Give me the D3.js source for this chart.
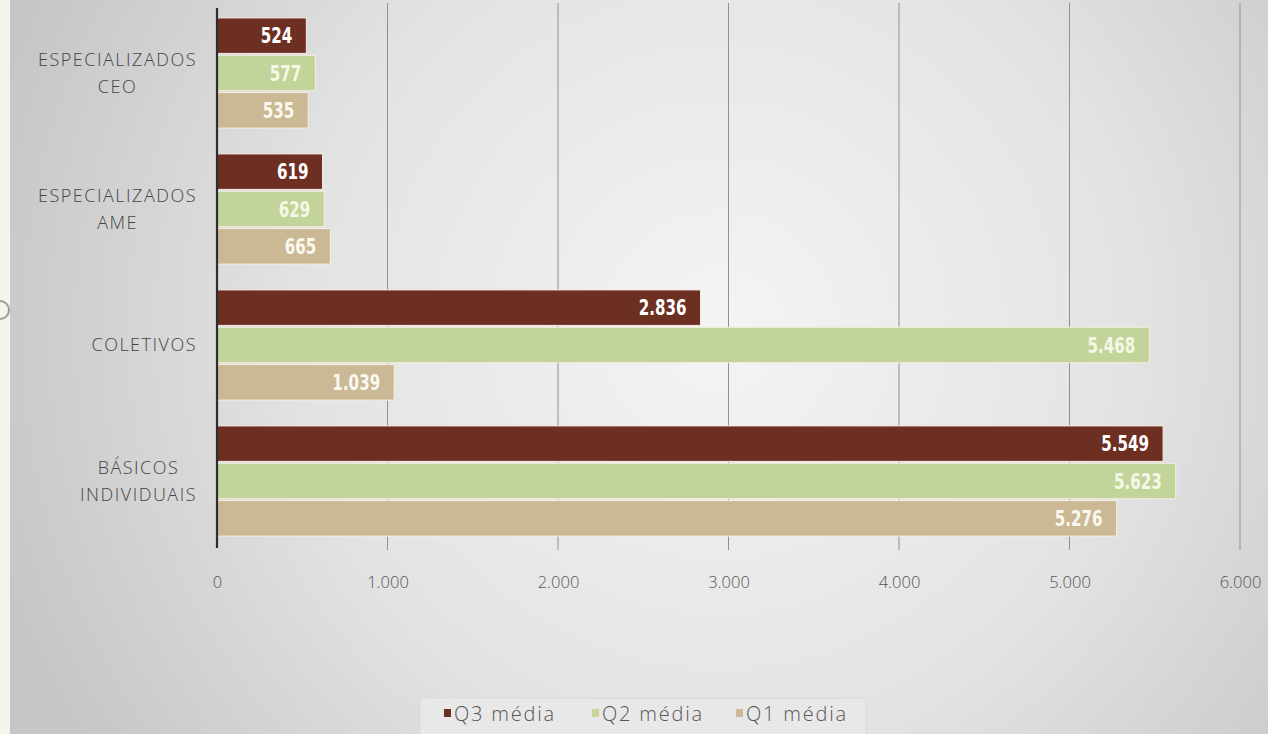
<!DOCTYPE html>
<html><head><meta charset="utf-8">
<script src="https://cdn.jsdelivr.net/npm/d3@7/dist/d3.min.js"></script>
<style>html,body{margin:0;padding:0;overflow:hidden;background:#f3f5ec}</style>
</head><body>
<svg id="c" width="1268" height="734"></svg>
<script>
const categories = [["ESPECIALIZADOS","CEO"],["ESPECIALIZADOS","AME"],["COLETIVOS"],["BÁSICOS","INDIVIDUAIS"]];
const catKeys = ["CEO","AME","COLETIVOS","BASICOS"];
const seriesNames = ["Q3 média","Q2 média","Q1 média"];
const q3 = [524, 619, 2836, 5549];
const q2 = [577, 629, 5468, 5623];
const q1 = [535, 665, 1039, 5276];
const tickValues = [0,1000,2000,3000,4000,5000,6000];
const colors = ["#6d2f22","#c3d49b","#cbb995"];
const labelColors = ["#ffffff","#f4f8e6","#fbf8f0"];
const lightFont = "'Open Sans','DejaVu Sans',sans-serif";

const svg = d3.select("#c");
const W = 1268, H = 734;
const defs = svg.append("defs");
const rg = defs.append("radialGradient").attr("id","bg").attr("gradientUnits","userSpaceOnUse")
  .attr("cx",720).attr("cy",330).attr("r",760);
rg.append("stop").attr("offset","0").attr("stop-color","#f4f4f4");
rg.append("stop").attr("offset","0.55").attr("stop-color","#e3e3e3");
rg.append("stop").attr("offset","1").attr("stop-color","#c6c6c6");
svg.append("rect").attr("x",10).attr("y",0).attr("width",W-10).attr("height",H).attr("fill","url(#bg)");
svg.append("circle").attr("cx",0).attr("cy",310).attr("r",9).attr("fill","none").attr("stroke","#9a9a9a").attr("stroke-width",2);

const loc = d3.formatLocale({decimal:",",thousands:".",grouping:[3],currency:["R$",""]});
const fmt = loc.format(",d");

const x = d3.scaleLinear().domain([0,6000]).range([217,1240]);
const y0 = d3.scaleBand().domain(catKeys).range([5,549]).paddingInner(0.19).paddingOuter(0.095);
const y1 = d3.scaleBand().domain(seriesNames).range([0,y0.bandwidth()]).paddingInner(0.05);

// gridlines
svg.append("g").selectAll("line").data(tickValues.slice(1)).join("line")
  .attr("x1",d=>x(d)).attr("x2",d=>x(d)).attr("y1",3).attr("y2",550)
  .attr("stroke","#909090").attr("stroke-width",1);

const data = [q3,q2,q1];
const g = svg.append("g");
catKeys.forEach((c,i)=>{
  seriesNames.forEach((s,j)=>{
    const v = data[j][i];
    const yy = y0(c)+y1(s);
    g.append("rect").attr("x",x(0)).attr("y",yy).attr("width",x(v)-x(0)).attr("height",y1.bandwidth())
      .attr("fill",colors[j]).attr("stroke","#f6efe2").attr("stroke-width",1);
    g.append("text")
      .attr("transform",`translate(${x(v)-14},${yy+y1.bandwidth()/2}) scale(0.8,1)`)
      .attr("dy","0.36em")
      .attr("text-anchor","end").attr("fill",labelColors[j])
      .style("font-family","'DejaVu Sans Condensed','DejaVu Sans',sans-serif")
      .style("font-weight","bold").style("font-size","21px").text(fmt(v));
  });
});

// axis line
svg.append("line").attr("x1",x(0)).attr("x2",x(0)).attr("y1",8).attr("y2",548)
  .attr("stroke","#2e2e2e").attr("stroke-width",2.2);

// x tick labels
const xAxis = d3.axisBottom(x).tickValues(tickValues).tickFormat(fmt).tickSize(0).tickPadding(0);
const ax = svg.append("g").attr("transform","translate(0,577)").call(xAxis);
ax.select(".domain").remove();
ax.selectAll("text").attr("fill","#555").style("font-family",lightFont).style("font-weight","300")
  .style("font-size","16.5px").attr("dy","0.32em").attr("y",6);

// category labels
const catG = svg.append("g");
catKeys.forEach((c,i)=>{
  const lines = categories[i];
  const cy = y0(c)+y0.bandwidth()/2;
  const t = catG.append("text").attr("text-anchor","middle").attr("fill","#454545")
    .style("font-family",lightFont).style("font-weight","300").style("font-size","18px");
  lines.forEach((l,k)=>{
    t.append("tspan").attr("x",0).attr("y",cy + (k-(lines.length-1)/2)*27).attr("dy","0.36em")
      .style("letter-spacing","1.5px").text(l);
  });
  const bb = t.node().getBBox();
  t.attr("transform",`translate(${197-bb.x-bb.width},0)`);
});

// legend
const lg = svg.append("g");
lg.append("rect").attr("x",420).attr("y",698).attr("width",446).attr("height",40)
  .attr("fill","#e8e8e8").attr("stroke","#dadada");
const lx = [444,592,736];
seriesNames.forEach((s,j)=>{
  lg.append("rect").attr("x",lx[j]).attr("y",709).attr("width",7).attr("height",8).attr("fill",colors[j]);
  lg.append("text").attr("x",lx[j]+10).attr("y",721).attr("fill","#555")
    .style("font-family",lightFont).style("font-weight","300").style("font-size","20px")
    .style("letter-spacing","1.8px").text(s);
});
</script>
</body></html>
